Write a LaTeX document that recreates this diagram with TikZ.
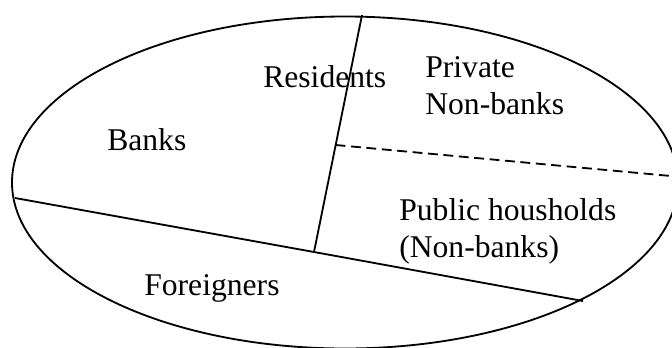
\documentclass[tikz,border=0pt]{standalone}
\usepackage{fontspec}
\setmainfont{Liberation Serif}
\usetikzlibrary{positioning}

\tikzset{
  sector/.style={anchor=base west, align=left, inner sep=0pt,
    font=\fontsize{22.5}{26}\selectfont},
  border/.style={line width=1.3pt},
  split/.style={line width=1.3pt, dash pattern=on 7pt off 4pt}
}

\begin{document}
\begin{tikzpicture}
   \clip (0,0) rectangle (16.8,8.675);
   \draw[border] (8.625,4.1125) ellipse (8.325 and 4.15);
   % points where the dividing lines meet
   \coordinate (top) at (9.05,8.3);
   \coordinate (junct) at (7.85,2.375);
   \coordinate (left) at (0.375,3.725);
   \coordinate (right) at (14.575,1.15);
   \coordinate (dstart) at (8.39,5.05);
   \coordinate (dend) at (16.775,4.275);
   \draw[border] (top) -- (junct);
   \draw[border] (left) -- (junct) -- (right);
   \draw[split] (dstart) -- (dend);
   % sector labels (base = last line)
   \node[sector] (res) at (6.575,6.5) {Residents};
   \node[sector] (priv) at (10.625,5.825) {Private\\Non-banks};
   \node[sector] (banks) at (2.675,4.925) {Banks};
   \node[sector] (pub) at (9.975,2.25) {Public housholds\\(Non-banks)};
   \node[sector] (for) at (3.6,1.3) {Foreigners};
\end{tikzpicture}
\end{document}
